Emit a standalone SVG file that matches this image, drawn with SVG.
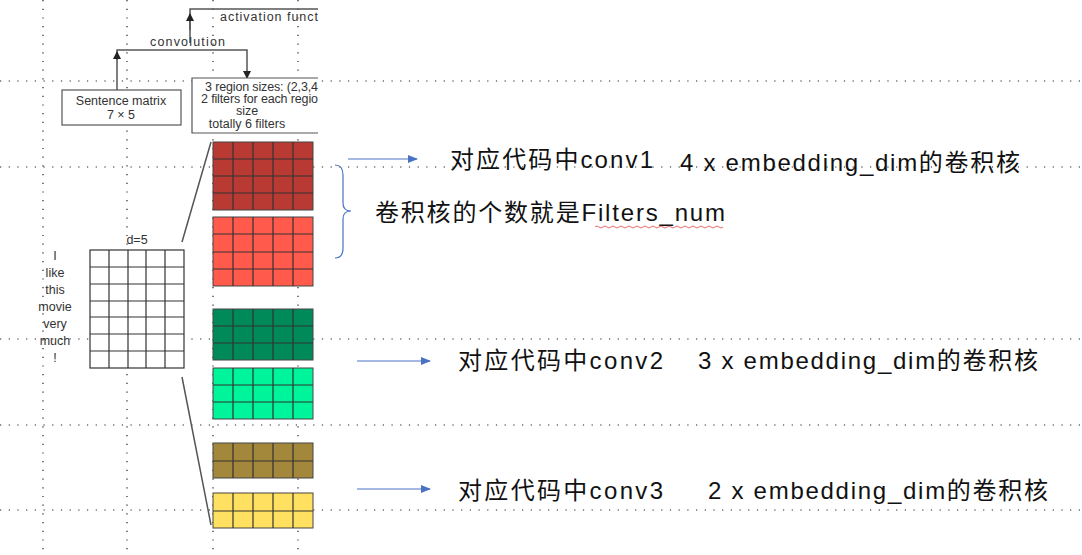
<svg xmlns="http://www.w3.org/2000/svg" width="1082" height="555" viewBox="0 0 1082 555">
<style>
.dot{stroke:#222;stroke-width:1.2;stroke-dasharray:1.2 7.5;fill:none}
.g{stroke:#333;stroke-width:1.2;fill:none}
.k{stroke:#555;stroke-width:1.5;fill:none}
.s{font-family:"Liberation Sans",Arial,sans-serif;font-size:12.5px;fill:#333}
.c{font-family:"Liberation Sans","Noto Sans CJK SC",sans-serif;font-size:24px;fill:#111}
.blue{stroke:#4a72c4;stroke-width:1.2;fill:none}
</style>
<defs>
<marker id="ab" markerWidth="10" markerHeight="8" refX="9" refY="4" orient="auto" markerUnits="userSpaceOnUse"><path d="M0,0 L10,4 L0,8 z" fill="#4a72c4"/></marker>
<marker id="ak" markerWidth="8" markerHeight="10" refX="7" refY="4" orient="auto" markerUnits="userSpaceOnUse"><path d="M0,0 L8,4 L0,8 z" fill="#222"/></marker>
</defs>
<rect width="1082" height="555" fill="#fff"/>
<g id="grid">
<path class="dot" d="M0 81H1082M0 167H1082M0 339H1082M0 425H1082M0 510H1082"/>
<path class="dot" d="M43 0V555M127 0V555M213 0V555M298 0V555"/>
</g>
<g id="connectors">
<path class="k" d="M117 90V50H247V78" marker-end="url(#ak)"/>
<path class="k" d="M117 60V52" marker-end="url(#ak)"/>
<path class="k" d="M190 43V9H318"/>
<path class="k" d="M190 30V14" marker-end="url(#ak)"/>
<path class="k" d="M182 242L211 142M182 377L211 525"/>
<path class="blue" d="M348 159H417" marker-end="url(#ab)"/>
<path class="blue" d="M357 361H430" marker-end="url(#ab)"/>
<path class="blue" d="M357 489H430" marker-end="url(#ab)"/>
<path class="blue" d="M335 165Q343 165 343 175V203Q343 211 351 211Q343 211 343 219V248Q343 258 335 258"/>
</g>
<g id="labels-top">
<text class="s" x="220" y="21" font-size="15" textLength="98">activation funct</text>
<text class="s" x="150" y="46" font-size="15" textLength="75">convolution</text>
</g>
<g id="sentence-box">
<rect x="62" y="90" width="119" height="35" fill="#fff" stroke="#555" stroke-width="1.2"/>
<text class="s" x="121" y="105" text-anchor="middle">Sentence matrix</text>
<text class="s" x="121" y="119" text-anchor="middle">7 × 5</text>
</g>
<g id="region-box">
<path d="M318 78H192V133H318" fill="#fff" stroke="#555" stroke-width="1.2"/>
<text class="s" x="205" y="91" textLength="113">3 region sizes: (2,3,4</text>
<text class="s" x="201" y="103" textLength="117">2 filters for each regio</text>
<text class="s" x="247" y="115" text-anchor="middle">size</text>
<text class="s" x="247" y="128" text-anchor="middle">totally 6 filters</text>
</g>
<g id="sentence">
<text class="s" x="137" y="244" text-anchor="middle">d=5</text>
<g class="s" font-size="15" text-anchor="middle">
<text x="55" y="260">I</text><text x="55" y="277">like</text><text x="55" y="294">this</text><text x="55" y="311">movie</text><text x="55" y="328">very</text><text x="55" y="345">much</text><text x="55" y="362">!</text>
</g>
<rect x="90" y="250" width="94" height="118" fill="#fff" stroke="#333" stroke-width="1.2"/>
<path class="g" d="M109 250V368M128 250V368M146 250V368M165 250V368M90 267H184M90 284H184M90 301H184M90 317H184M90 334H184M90 351H184"/>
</g>
<g id="filter1">
<rect x="213" y="142" width="100" height="68" fill="#b83a33" stroke="#444"/>
<path class="g" d="M233 142V210M253 142V210M273 142V210M293 142V210M213 159H313M213 176H313M213 193H313"/>
</g>
<g id="filter2">
<rect x="213" y="217" width="100" height="69" fill="#ff5a4c" stroke="#444"/>
<path class="g" d="M233 217V286M253 217V286M273 217V286M293 217V286M213 234H313M213 252H313M213 269H313"/>
</g>
<g id="filter3">
<rect x="213" y="309" width="100" height="51" fill="#008a5a" stroke="#444"/>
<path class="g" d="M233 309V360M253 309V360M273 309V360M293 309V360M213 326H313M213 343H313"/>
</g>
<g id="filter4">
<rect x="213" y="368" width="100" height="51" fill="#00f59a" stroke="#444"/>
<path class="g" d="M233 368V419M253 368V419M273 368V419M293 368V419M213 385H313M213 402H313"/>
</g>
<g id="filter5">
<rect x="213" y="443" width="100" height="35" fill="#a3883c" stroke="#444"/>
<path class="g" d="M233 443V478M253 443V478M273 443V478M293 443V478M213 461H313"/>
</g>
<g id="filter6">
<rect x="213" y="493" width="100" height="35" fill="#ffe060" stroke="#444"/>
<path class="g" d="M233 493V528M253 493V528M273 493V528M293 493V528M213 511H313"/>
</g>
<g id="annotations">
<text class="c" x="450" y="168" textLength="203">对应代码中conv1</text>
<text class="c" x="680" y="171" textLength="340">4 x embedding_dim的卷积核</text>
<text class="c" x="375" y="221" textLength="350">卷积核的个数就是Filters_num</text>
<path d="M595 227q2 -2 4 0t4 0t4 0t4 0t4 0t4 0t4 0t4 0t4 0t4 0t4 0t4 0t4 0t4 0t4 0t4 0t4 0t4 0t4 0t4 0t4 0t4 0t4 0t4 0t4 0t4 0t4 0t4 0t4 0t4 0t4 0t4 0" fill="none" stroke="#e04040" stroke-width="0.8"/>
<text class="c" x="458" y="369" textLength="205">对应代码中conv2</text>
<text class="c" x="698" y="369" textLength="340">3 x embedding_dim的卷积核</text>
<text class="c" x="458" y="499" textLength="205">对应代码中conv3</text>
<text class="c" x="708" y="499" textLength="340">2 x embedding_dim的卷积核</text>
</g>
</svg>
